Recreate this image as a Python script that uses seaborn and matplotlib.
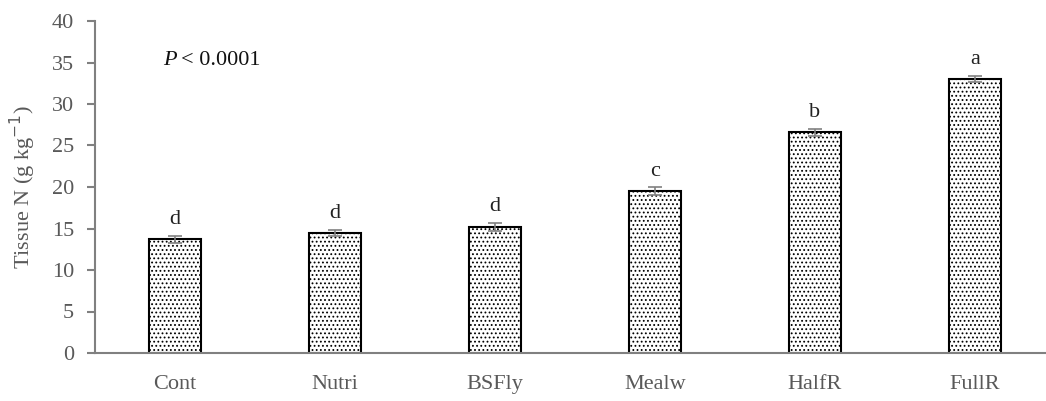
import matplotlib
matplotlib.use("Agg")
import matplotlib.pyplot as plt
import seaborn as sns
import pandas as pd
import numpy as np

categories = ["Cont", "Nutri", "BSFly", "Mealw", "HalfR", "FullR"]
values = [13.7, 14.45, 15.2, 19.5, 26.6, 33.0]
errors = [0.4, 0.4, 0.45, 0.45, 0.4, 0.4]
letters = ["d", "d", "d", "c", "b", "a"]
yticks = [0, 5, 10, 15, 20, 25, 30, 35, 40]

sns.set_theme(style="white")
plt.rcParams['font.family'] = ['Liberation Serif', 'DejaVu Serif']
plt.rcParams['hatch.color'] = '#3a3a3a'
plt.rcParams['hatch.linewidth'] = 0.8

df = pd.DataFrame({"cat": categories, "val": values})

fig = plt.figure(figsize=(10.46, 4.01), dpi=100)
ax = fig.add_axes([95/1046, 48/401, 960/1046, 332/401])

sns.barplot(data=df, x="cat", y="val", ax=ax, width=0.32, color="white",
            edgecolor="black", linewidth=1.5, errorbar=None)
for p in ax.patches:
    p.set_hatch("....")
    p.set_facecolor("white")

xs = np.arange(len(categories))
ax.errorbar(xs, values, yerr=errors, fmt="none", ecolor="#808080",
            elinewidth=1.2, capsize=5, capthick=1.2)

fs = 16
for x, v, e, l in zip(xs, values, errors, letters):
    ax.text(x, v + e + 0.8, l, ha="center", va="bottom", fontsize=fs, color="#222222")

ax.text(-0.075, 35.3, "P", ha="left", va="center", fontsize=fs, color="#111111",
        fontstyle="italic")
ax.text(0.04, 35.3, "< 0.0001", ha="left", va="center", fontsize=fs, color="#111111")

ax.set_xlim(-0.5, 5.5)
ax.set_ylim(0, 40)
ax.set_yticks(yticks)
ax.set_xlabel("")
ax.set_ylabel("Tissue N (g kg$^{-1}$)", fontsize=fs, color="#595959", labelpad=10)

for s in ["top", "right"]:
    ax.spines[s].set_visible(False)
for s in ["left", "bottom"]:
    ax.spines[s].set_color("#808080")
    ax.spines[s].set_linewidth(1.5)

ax.set_xticks(np.arange(0.5, 5.5, 1.0), minor=True)
ax.tick_params(axis="x", which="major", length=0, pad=16, labelsize=fs, labelcolor="#595959")
ax.tick_params(axis="x", which="minor", length=6, width=1.5, color="#808080", direction="out")
ax.tick_params(axis="y", which="major", length=6, width=1.5, color="#808080", direction="out",
               left=True, labelsize=fs, labelcolor="#595959", pad=9)

fig.savefig("out.png", dpi=100)
